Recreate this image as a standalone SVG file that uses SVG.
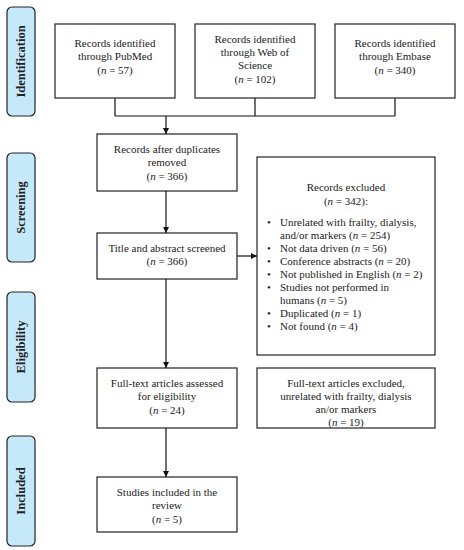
<svg xmlns="http://www.w3.org/2000/svg" width="464" height="550" viewBox="0 0 464 550">
<defs>
<marker id="ah" viewBox="0 0 10 10" refX="10" refY="5" markerWidth="6" markerHeight="6" orient="auto" markerUnits="userSpaceOnUse">
<path d="M0,0 L10,5 L0,10 z" fill="#111"/>
</marker>
<style>
.box{fill:#fff;stroke:#222;stroke-width:1.2}
.side{fill:#c6e9fa;stroke:#222;stroke-width:1.2}
.t{font-family:"Liberation Serif","DejaVu Serif",serif;font-size:11px;fill:#222;text-anchor:middle}
.l{font-family:"Liberation Serif","DejaVu Serif",serif;font-size:11px;fill:#222}
.s{font-family:"Liberation Serif","DejaVu Serif",serif;font-size:12.5px;font-weight:bold;fill:#222;text-anchor:middle}
.c{fill:none;stroke:#111;stroke-width:1.2}
</style>
</defs>
<rect width="464" height="550" fill="#fff"/>
<g id="side-identification"><rect class="side" x="7" y="7" width="28" height="109" rx="5"/><text class="s" transform="translate(25,61.5) rotate(-90)">Identification</text></g>
<g id="side-screening"><rect class="side" x="7" y="153" width="28" height="109" rx="5"/><text class="s" transform="translate(25,207.5) rotate(-90)">Screening</text></g>
<g id="side-eligibility"><rect class="side" x="7" y="292" width="28" height="110" rx="5"/><text class="s" transform="translate(25,347) rotate(-90)">Eligibility</text></g>
<g id="side-included"><rect class="side" x="7" y="436" width="28" height="110" rx="5"/><text class="s" transform="translate(25,491) rotate(-90)">Included</text></g>
<g id="pubmed"><rect class="box" x="55" y="24" width="120" height="74"/>
<text class="t" x="115" y="47">Records identified</text><text class="t" x="115" y="60">through PubMed</text><text class="t" x="115" y="74">(<tspan font-style="italic">n</tspan> = 57)</text></g>
<g id="wos"><rect class="box" x="195" y="24" width="120" height="74"/>
<text class="t" x="255" y="43">Records identified</text><text class="t" x="255" y="56">through Web of</text><text class="t" x="255" y="69">Science</text><text class="t" x="255" y="83">(<tspan font-style="italic">n</tspan> = 102)</text></g>
<g id="embase"><rect class="box" x="335" y="24" width="120" height="74"/>
<text class="t" x="395" y="47">Records identified</text><text class="t" x="395" y="60">through Embase</text><text class="t" x="395" y="74">(<tspan font-style="italic">n</tspan> = 340)</text></g>
<g id="dedup"><rect class="box" x="97" y="134" width="140" height="57"/>
<text class="t" x="167" y="153">Records after duplicates</text><text class="t" x="167" y="166">removed</text><text class="t" x="167" y="180">(<tspan font-style="italic">n</tspan> = 366)</text></g>
<g id="screened"><rect class="box" x="97" y="233" width="140" height="46"/>
<text class="t" x="167" y="252">Title and abstract screened</text><text class="t" x="167" y="265">(<tspan font-style="italic">n</tspan> = 366)</text></g>
<g id="excluded"><rect class="box" x="257" y="157" width="178" height="198"/>
<text class="t" x="346" y="191">Records excluded</text><text class="t" x="346" y="205">(<tspan font-style="italic">n</tspan> = 342):</text>
<g class="l">
<text x="267" y="226">•</text><text x="280" y="226">Unrelated with frailty, dialysis,</text>
<text x="280" y="239">and/or markers (<tspan font-style="italic">n</tspan> = 254)</text>
<text x="267" y="252">•</text><text x="280" y="252">Not data driven (<tspan font-style="italic">n</tspan> = 56)</text>
<text x="267" y="265">•</text><text x="280" y="265">Conference abstracts (<tspan font-style="italic">n</tspan> = 20)</text>
<text x="267" y="278">•</text><text x="280" y="278">Not published in English (<tspan font-style="italic">n</tspan> = 2)</text>
<text x="267" y="291">•</text><text x="280" y="291">Studies not performed in</text>
<text x="280" y="304">humans (<tspan font-style="italic">n</tspan> = 5)</text>
<text x="267" y="317">•</text><text x="280" y="317">Duplicated (<tspan font-style="italic">n</tspan> = 1)</text>
<text x="267" y="330">•</text><text x="280" y="330">Not found (<tspan font-style="italic">n</tspan> = 4)</text>
</g></g>
<g id="fulltext"><rect class="box" x="97" y="368" width="140" height="60"/>
<text class="t" x="167" y="387">Full-text articles assessed</text><text class="t" x="167" y="400">for eligibility</text><text class="t" x="167" y="414">(<tspan font-style="italic">n</tspan> = 24)</text></g>
<g id="fulltext-excluded"><rect class="box" x="257" y="368" width="178" height="60"/>
<text class="t" x="346" y="387">Full-text articles excluded,</text><text class="t" x="346" y="400">unrelated with frailty, dialysis</text><text class="t" x="346" y="413">an/or markers</text><text class="t" x="346" y="426">(<tspan font-style="italic">n</tspan> = 19)</text></g>
<g id="included"><rect class="box" x="97" y="477" width="140" height="55"/>
<text class="t" x="167" y="496">Studies included in the</text><text class="t" x="167" y="509">review</text><text class="t" x="167" y="523">(<tspan font-style="italic">n</tspan> = 5)</text></g>
<g id="connectors">
<path class="c" d="M115,98 V116 M255,98 V116 M395,98 V116 M115,116 H395"/>
<path class="c" d="M166,116 V134" marker-end="url(#ah)"/>
<path class="c" d="M166,191 V233" marker-end="url(#ah)"/>
<path class="c" d="M237,256 H257" marker-end="url(#ah)"/>
<path class="c" d="M166,279 V368" marker-end="url(#ah)"/>
<path class="c" d="M166,428 V477" marker-end="url(#ah)"/>
</g>
</svg>
